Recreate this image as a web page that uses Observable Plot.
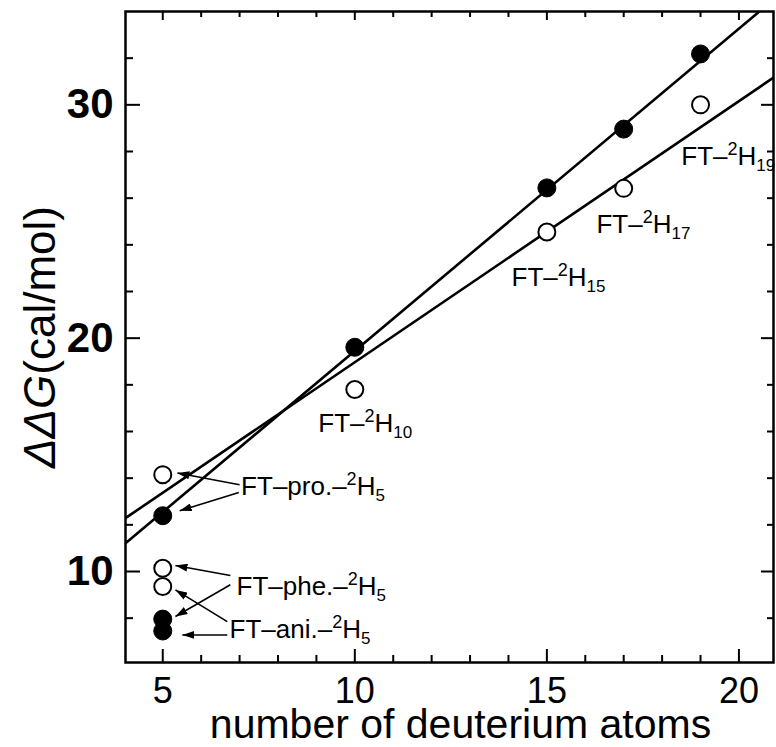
<!DOCTYPE html>
<html>
<head>
<meta charset="utf-8">
<script src="https://cdn.jsdelivr.net/npm/d3@7"></script>
<script src="https://cdn.jsdelivr.net/npm/@observablehq/plot@0.6"></script>
<style>
  html, body { margin: 0; padding: 0; background: #fff; overflow: hidden; }
  #chart { width: 776px; height: 747px; }
</style>
</head>
<body>
<div id="chart"></div>
<script>
// ---- data ----
const compounds = ["FT-pro.-2H5", "FT-2H10", "FT-2H15", "FT-2H17", "FT-2H19", "FT-phe.-2H5", "FT-ani.-2H5"];
const deuteriumCount = [5, 10, 15, 17, 19, 5, 5];
const ddgFilled = [12.39, 19.61, 26.44, 28.96, 32.18, 7.96, 7.45];
const ddgOpen = [14.15, 17.8, 24.55, 26.42, 30.0, 10.14, 9.36];

// fitted straight lines (filled, open)
const fitSeries = ["filled", "open"];
const fitSlope = [1.381, 1.119];
const fitIntercept = [5.645, 7.78];

// compound labels
const labelPrefix = ["FT–pro.–", "FT–", "FT–", "FT–", "FT–", "FT–phe.–", "FT–ani.–"];
const labelSup = ["2", "2", "2", "2", "2", "2", "2"];
const labelBase = ["H", "H", "H", "H", "H", "H", "H"];
const labelSub = ["5", "10", "15", "17", "19", "5", "5"];
const labelX = [7.04, 9.05, 14.08, 16.29, 18.5, 6.92, 6.74];
const labelY = [13.62, 16.35, 22.58, 24.86, 27.77, 9.36, 7.52];

// annotation arrows (tail -> tip)
const arrowX1 = [7.0, 6.98, 6.76, 6.76, 6.68, 6.68];
const arrowY1 = [13.72, 13.39, 9.83, 9.43, 7.85, 7.28];
const arrowX2 = [5.38, 5.44, 5.33, 5.33, 5.33, 5.51];
const arrowY2 = [14.22, 12.6, 10.26, 8.07, 9.21, 7.28];

// axes
const xDomain = [4.03, 20.9];
const yDomain = [6.1, 34.0];
const xTickLabels = [5, 10, 15, 20];
const xMinorTicks = [6, 7, 8, 9, 11, 12, 13, 14, 16, 17, 18, 19];
const yTickLabels = [10, 20, 30];
const yMinorTicks = [8, 12, 14, 16, 18, 22, 24, 26, 28, 32];
const xTitle = "number of deuterium atoms";
const yTitleItalic = "ΔΔG";
const yTitleRest = "(cal/mol)";

// ---- build tables ----
const points = compounds.map((c, i) => ({compound: c, n: deuteriumCount[i], filled: ddgFilled[i], open: ddgOpen[i]}));
const fitLines = fitSeries.flatMap((s, i) => xDomain.map(x => ({series: s, x, y: fitIntercept[i] + fitSlope[i] * x})));
const labels = labelPrefix.map((p, i) => ({text: p + labelSup[i] + labelBase[i] + labelSub[i], x: labelX[i], y: labelY[i], i}));
const arrows = arrowX1.map((x1, i) => ({x1, y1: arrowY1[i], x2: arrowX2[i], y2: arrowY2[i]}));

const W = 776, H = 747;
const M = {top: 11, right: 3, bottom: 85, left: 125};
const plotW = W - M.left - M.right;
const plotH = H - M.top - M.bottom;

// inward tick helpers (length in px)
const tickStyle = {stroke: "black", strokeWidth: 2};
const bottomTicks = (data, len) => Plot.tickX(data, {x: d => d, insetTop: plotH - len, ...tickStyle});
const topTicks = (data, len) => Plot.tickX(data, {x: d => d, insetBottom: plotH - len, ...tickStyle});
const leftTicks = (data, len) => Plot.tickY(data, {y: d => d, insetRight: plotW - len, ...tickStyle});
const rightTicks = (data, len) => Plot.tickY(data, {y: d => d, insetLeft: plotW - len, ...tickStyle});

const svg = Plot.plot({
  width: W,
  height: H,
  marginTop: M.top,
  marginRight: M.right,
  marginBottom: M.bottom,
  marginLeft: M.left,
  style: {fontFamily: "'Liberation Sans', Arial, Helvetica, sans-serif", background: "white", color: "black", overflow: "visible"},
  x: {domain: xDomain, label: null},
  y: {domain: yDomain, label: null},
  marks: [
    Plot.line(fitLines, {x: "x", y: "y", z: "series", stroke: "black", strokeWidth: 2.6, clip: true}),
    Plot.link(arrows, {x1: "x1", y1: "y1", x2: "x2", y2: "y2", stroke: "black", strokeWidth: 1.6, ariaLabel: "arrows", ariaDescription: "arrows"}),
    Plot.dot(points, {x: "n", y: "open", r: 8.5, fill: "white", stroke: "black", strokeWidth: 2}),
    Plot.dot(points, {x: "n", y: "filled", r: 9, fill: "black", stroke: "black", strokeWidth: 1}),
    Plot.text(labels, {x: "x", y: "y", text: "text", textAnchor: "start", fontSize: 26, fill: "black", ariaLabel: "iso-label", ariaDescription: "iso-label"}),
    bottomTicks(xTickLabels, 13), bottomTicks(xMinorTicks, 7),
    topTicks(xTickLabels, 9), topTicks(xMinorTicks, 6),
    leftTicks(yTickLabels, 15), leftTicks(yMinorTicks, 8),
    rightTicks(yTickLabels, 12), rightTicks(yMinorTicks, 6),
    Plot.frame({stroke: "black", strokeWidth: 2.5}),
    Plot.axisX(xTickLabels, {tickSize: 0, tickPadding: 15, fontSize: 36, label: null}),
    Plot.axisY(yTickLabels, {tickSize: 0, tickPadding: 12, fontSize: 42, fontWeight: "bold", label: null}),
    Plot.text([xTitle], {frameAnchor: "bottom", text: d => d, fontSize: 41, dx: 11, dy: 75, fill: "black"}),
    Plot.text([yTitleItalic + yTitleRest], {frameAnchor: "left", text: d => d, textAnchor: "middle", fontSize: 44, rotate: -90, dx: -85, fill: "black", ariaLabel: "y-title", ariaDescription: "y-title"})
  ]
});

const NS = "http://www.w3.org/2000/svg";

// find elements of a mark tagged by aria-label / aria-description, on the element or on its group
function tagged(tag, sel) {
  const out = [];
  svg.querySelectorAll(`[aria-label="${tag}"], [aria-description="${tag}"]`).forEach(el => {
    if (el.matches(sel)) out.push(el);
    else el.querySelectorAll(sel).forEach(c => out.push(c));
  });
  return [...new Set(out)];
}

// compound labels: superscript mass number, subscript count
tagged("iso-label", "text").forEach((t, i) => {
  t.textContent = "";
  t.appendChild(document.createTextNode(labelPrefix[i]));
  const sup = document.createElementNS(NS, "tspan");
  sup.setAttribute("font-size", "18");
  sup.setAttribute("dy", "-10");
  sup.textContent = labelSup[i];
  const base = document.createElementNS(NS, "tspan");
  base.setAttribute("font-size", "26");
  base.setAttribute("dy", "10");
  base.textContent = labelBase[i];
  const sub = document.createElementNS(NS, "tspan");
  sub.setAttribute("font-size", "17");
  sub.setAttribute("dy", "6");
  sub.textContent = labelSub[i];
  t.append(sup, base, sub);
});

// y title: italic ΔΔG
tagged("y-title", "text").forEach(t => {
  t.textContent = "";
  const it = document.createElementNS(NS, "tspan");
  it.setAttribute("font-style", "italic");
  it.textContent = yTitleItalic;
  t.append(it, document.createTextNode(yTitleRest));
});

// filled arrowheads on annotation links
const defs = document.createElementNS(NS, "defs");
const marker = document.createElementNS(NS, "marker");
marker.setAttribute("id", "ahead");
marker.setAttribute("viewBox", "0 0 10 10");
marker.setAttribute("refX", "10");
marker.setAttribute("refY", "5");
marker.setAttribute("markerWidth", "12");
marker.setAttribute("markerHeight", "8");
marker.setAttribute("markerUnits", "userSpaceOnUse");
marker.setAttribute("orient", "auto");
marker.setAttribute("preserveAspectRatio", "none");
const mp = document.createElementNS(NS, "path");
mp.setAttribute("d", "M0,0L10,5L0,10Z");
mp.setAttribute("fill", "black");
marker.appendChild(mp);
defs.appendChild(marker);
svg.insertBefore(defs, svg.firstChild);
tagged("arrows", "path").forEach(p => p.setAttribute("marker-end", "url(#ahead)"));

document.getElementById("chart").appendChild(svg);
</script>
</body>
</html>
